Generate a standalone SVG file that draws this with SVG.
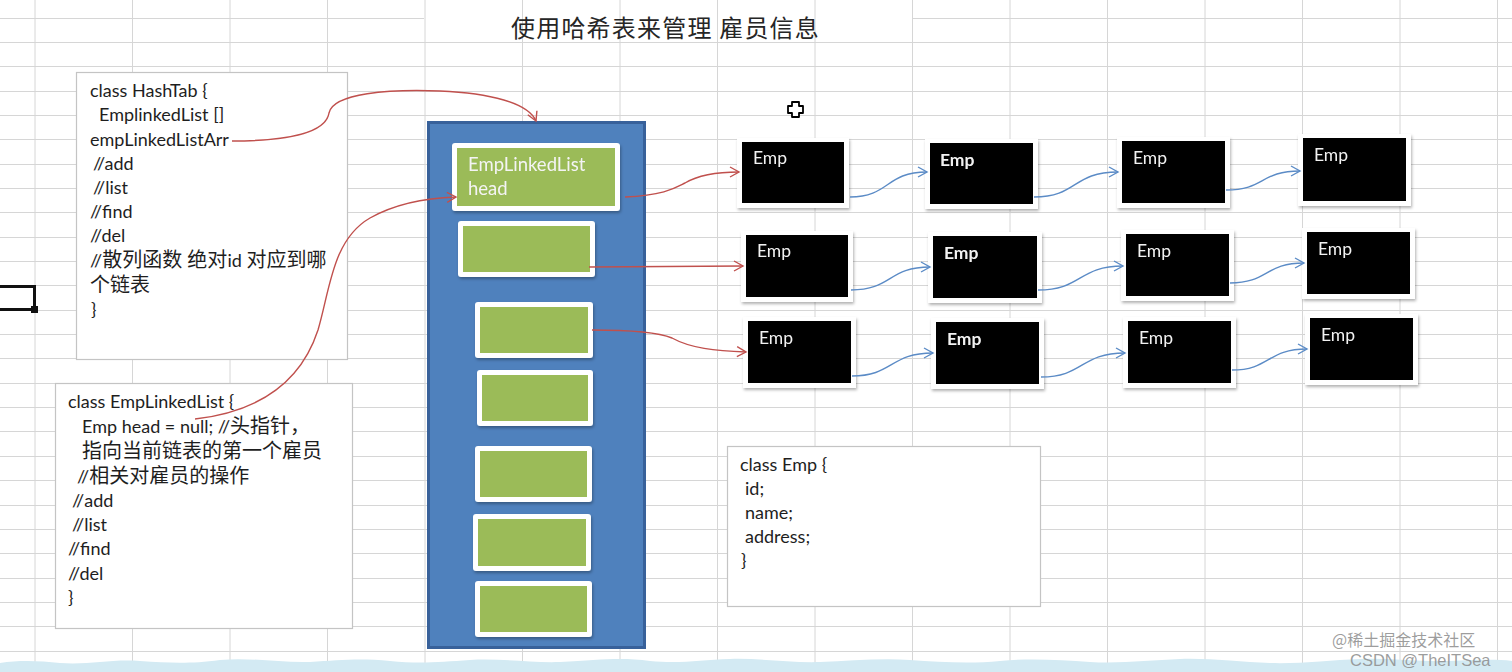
<svg xmlns="http://www.w3.org/2000/svg" width="1512" height="672" viewBox="0 0 1512 672">
<style>
.grid{stroke:#d6d6d6;stroke-width:1;fill:none}
.code{font-family:Lato,"Noto Sans CJK SC",sans-serif;font-size:18px;fill:#1e1e1e}
.cjk{font-size:20px}
.box{fill:#fff;stroke:#c4c4c4;stroke-width:1.2}
.emp-bg{fill:#fff}
.emp{fill:#000}
.emp-t{font-family:Lato,"Noto Sans CJK SC",sans-serif;font-size:17.5px;fill:#f2f2f2}
.b{font-weight:bold}
.gbg{fill:#fff}
.green{fill:#9bbb59}
.red{fill:none;stroke:#c0504d;stroke-width:1.4}
.blue{fill:none;stroke:#5b8bc6;stroke-width:1.4}
</style>
<defs>
<filter id="sh" x="-10%" y="-10%" width="130%" height="140%">
<feDropShadow dx="1" dy="2" stdDeviation="1.5" flood-color="#000" flood-opacity="0.3"/>
</filter>
<marker id="ar" markerWidth="12" markerHeight="12" refX="10" refY="6" orient="auto" markerUnits="userSpaceOnUse">
<path d="M1,1 L10,6 L1,11" fill="none" stroke="#c0504d" stroke-width="1.4"/>
</marker>
<marker id="ab" markerWidth="12" markerHeight="12" refX="10" refY="6" orient="auto" markerUnits="userSpaceOnUse">
<path d="M1,1 L10,6 L1,11" fill="none" stroke="#5b8bc6" stroke-width="1.4"/>
</marker>
</defs>
<rect width="1512" height="672" fill="#fff"/>
<g id="grid" class="grid">
<path d="M35,0V672M132.5,0V672M230,0V672M327.5,0V672M425,0V672M522.5,0V672M620,0V672M717.5,0V672M815,0V672M912.5,0V672M1010,0V672M1107.5,0V672M1205,0V672M1302.5,0V672M1400,0V672M1497.5,0V672"/>
<path d="M0,18.5H424M912,18.5H1512M0,42.5H1512M0,66.5H1512M0,91.5H1512M0,115.5H1512M0,139.5H1512M0,164.5H1512M0,188.5H1512M0,212.5H1512M0,237.5H1512M0,261.5H1512M0,285.5H1512M0,310.5H1512M0,334.5H1512M0,358.5H1512M0,383.5H1512M0,407.5H1512M0,431.5H1512M0,456.5H1512M0,480.5H1512M0,505.5H1512M0,529.5H1512M0,553.5H1512M0,578.5H1512M0,602.5H1512M0,626.5H1512M0,651.5H1512"/>
</g>
<g id="bottom-band">
<path d="M0,663 C20,660 40,661 60,663 C90,665 110,659 140,661 C170,663 190,664 220,660 C250,657 280,663 310,662 C340,660 360,658 390,661 C420,664 440,662 470,660 C500,658 530,663 560,662 C600,660 620,657 650,661 C680,664 700,660 730,659 C760,658 790,663 820,662 C850,661 880,658 910,660 C940,662 970,664 1000,661 C1030,658 1060,660 1090,662 C1120,664 1150,660 1180,659 C1210,658 1240,662 1270,663 C1300,664 1330,660 1360,659 C1390,658 1420,662 1450,661 C1475,660 1495,659 1512,661 L1512,672 L0,672 Z" fill="#d3eaf3"/>
</g>
<g id="title">
<text x="511" y="37" font-family="'Noto Sans CJK SC',sans-serif" font-size="24" letter-spacing="1.2" fill="#262626">使用哈希表来管理 雇员信息</text>
</g>
<g id="selection-mark">
<path d="M0,286.5H34.5V309.5H0" fill="none" stroke="#111" stroke-width="3"/>
<rect x="31" y="306" width="7" height="7" fill="#111"/>
</g>
<g id="cursor">
<path d="M792,102H799V106H803V113H799V117H792V113H788V106H792Z" fill="#fff" stroke="#000" stroke-width="1.8" stroke-linejoin="round"/>
</g>
<g id="hashtab-box">
<rect class="box" x="76.5" y="72.5" width="271" height="287"/>
<text class="code">
<tspan x="90" y="97">class HashTab  {</tspan>
<tspan x="99" y="121">EmplinkedList []</tspan>
<tspan x="90" y="146">empLinkedListArr</tspan>
<tspan x="93" y="170">//add</tspan>
<tspan x="93" y="194">//list</tspan>
<tspan x="90" y="218">//find</tspan>
<tspan x="90" y="242">//del</tspan>
<tspan x="90" y="267">//<tspan class="cjk">散列函数 绝对</tspan>id <tspan class="cjk">对应到哪</tspan></tspan>
<tspan x="90" y="292" class="cjk">个链表</tspan>
<tspan x="91" y="316">}</tspan>
</text>
</g>
<g id="emplinkedlist-box">
<rect class="box" x="55.5" y="383.5" width="297" height="245"/>
<text class="code">
<tspan x="68" y="408">class  EmpLinkedList {</tspan>
<tspan x="82" y="433">Emp head = null; //<tspan class="cjk">头指针，</tspan></tspan>
<tspan x="82" y="458" class="cjk">指向当前链表的第一个雇员</tspan>
<tspan x="77" y="483">//<tspan class="cjk">相关对雇员的操作</tspan></tspan>
<tspan x="72" y="507">//add</tspan>
<tspan x="72" y="531">//list</tspan>
<tspan x="68" y="555">//find</tspan>
<tspan x="68" y="580">//del</tspan>
<tspan x="68" y="604">}</tspan>
</text>
</g>
<g id="emp-class-box">
<rect class="box" x="727.5" y="446.5" width="313" height="160"/>
<text class="code">
<tspan x="740" y="471">class Emp {</tspan>
<tspan x="745" y="495">id;</tspan>
<tspan x="745" y="519">name;</tspan>
<tspan x="745" y="543">address;</tspan>
<tspan x="741" y="567">}</tspan>
</text>
</g>
<g id="hash-array">
<rect x="428.5" y="122.5" width="216" height="525" fill="#4f81bd" stroke="#38619a" stroke-width="3"/>
</g>
<g id="bucket-0" filter="url(#sh)">
<rect class="gbg" x="452" y="143" width="168" height="68" rx="3"/>
<rect class="green" x="457" y="148" width="158" height="58"/>
<text x="468" y="171" font-family="Lato,sans-serif" font-size="18.5" fill="#f4f4f4">EmpLinkedList</text>
<text x="468" y="195" font-family="Lato,sans-serif" font-size="18.5" fill="#f4f4f4">head</text>
</g>
<g id="bucket-1" filter="url(#sh)">
<rect class="gbg" x="458" y="221" width="137" height="56" rx="3"/>
<rect class="green" x="463" y="226" width="127" height="46"/>
</g>
<g id="bucket-2" filter="url(#sh)">
<rect class="gbg" x="475" y="302" width="118" height="56" rx="3"/>
<rect class="green" x="480" y="307" width="108" height="46"/>
</g>
<g id="bucket-3" filter="url(#sh)">
<rect class="gbg" x="477" y="370" width="116" height="56" rx="3"/>
<rect class="green" x="482" y="375" width="106" height="46"/>
</g>
<g id="bucket-4" filter="url(#sh)">
<rect class="gbg" x="475" y="446" width="117" height="56" rx="3"/>
<rect class="green" x="480" y="451" width="107" height="46"/>
</g>
<g id="bucket-5" filter="url(#sh)">
<rect class="gbg" x="473" y="514" width="118" height="57" rx="3"/>
<rect class="green" x="478" y="519" width="108" height="47"/>
</g>
<g id="bucket-6" filter="url(#sh)">
<rect class="gbg" x="475" y="581" width="117" height="56" rx="3"/>
<rect class="green" x="480" y="586" width="107" height="46"/>
</g>
<g id="emp-1-1" filter="url(#sh)"><rect class="emp-bg" x="737" y="138" width="112" height="70"/><rect class="emp" x="742" y="142" width="102" height="61"/><text class="emp-t" x="753" y="164">Emp</text></g>
<g id="emp-1-2" filter="url(#sh)"><rect class="emp-bg" x="925" y="139" width="113" height="70"/><rect class="emp" x="930" y="143" width="103" height="61"/><text class="emp-t b" x="940" y="166">Emp</text></g>
<g id="emp-1-3" filter="url(#sh)"><rect class="emp-bg" x="1117" y="137" width="113" height="71"/><rect class="emp" x="1122" y="141" width="103" height="62"/><text class="emp-t" x="1133" y="164">Emp</text></g>
<g id="emp-1-4" filter="url(#sh)"><rect class="emp-bg" x="1298" y="134" width="113" height="72"/><rect class="emp" x="1303" y="138" width="103" height="63"/><text class="emp-t" x="1314" y="161">Emp</text></g>
<g id="emp-2-1" filter="url(#sh)"><rect class="emp-bg" x="741" y="231" width="112" height="71"/><rect class="emp" x="746" y="235" width="102" height="62"/><text class="emp-t" x="757" y="257">Emp</text></g>
<g id="emp-2-2" filter="url(#sh)"><rect class="emp-bg" x="928" y="232" width="114" height="71"/><rect class="emp" x="933" y="236" width="104" height="62"/><text class="emp-t b" x="944" y="259">Emp</text></g>
<g id="emp-2-3" filter="url(#sh)"><rect class="emp-bg" x="1121" y="230" width="113" height="71"/><rect class="emp" x="1126" y="234" width="103" height="62"/><text class="emp-t" x="1137" y="257">Emp</text></g>
<g id="emp-2-4" filter="url(#sh)"><rect class="emp-bg" x="1302" y="228" width="113" height="71"/><rect class="emp" x="1307" y="232" width="103" height="62"/><text class="emp-t" x="1318" y="255">Emp</text></g>
<g id="emp-3-1" filter="url(#sh)"><rect class="emp-bg" x="743" y="317" width="113" height="71"/><rect class="emp" x="748" y="321" width="103" height="62"/><text class="emp-t" x="759" y="344">Emp</text></g>
<g id="emp-3-2" filter="url(#sh)"><rect class="emp-bg" x="931" y="318" width="113" height="71"/><rect class="emp" x="936" y="322" width="103" height="62"/><text class="emp-t b" x="947" y="345">Emp</text></g>
<g id="emp-3-3" filter="url(#sh)"><rect class="emp-bg" x="1123" y="317" width="113" height="71"/><rect class="emp" x="1128" y="321" width="103" height="62"/><text class="emp-t" x="1139" y="344">Emp</text></g>
<g id="emp-3-4" filter="url(#sh)"><rect class="emp-bg" x="1305" y="314" width="113" height="71"/><rect class="emp" x="1310" y="318" width="103" height="62"/><text class="emp-t" x="1321" y="341">Emp</text></g>
<g id="connectors">
<path class="red" marker-end="url(#ar)" d="M232,141 C290,141 326,132 329,113 C333,93 390,89 440,91 C490,93 528,103 536,121"/>
<path class="red" marker-end="url(#ar)" d="M195,419 C255,412 300,385 318,330 C330,290 332,240 370,218 C395,204 425,198 456,197"/>
<path class="red" marker-end="url(#ar)" d="M625,197 C665,195 675,188 685,183 C700,174 720,172 739,172"/>
<path class="red" marker-end="url(#ar)" d="M589,267 C650,267 700,266 743,266"/>
<path class="red" marker-end="url(#ar)" d="M592,330 C640,330 660,333 672,338 C690,348 715,351 746,352"/>
<path class="blue" marker-end="url(#ab)" d="M850,197 C890,197 885,172 927,172"/>
<path class="blue" marker-end="url(#ab)" d="M1034,197 C1078,197 1072,172 1118,172"/>
<path class="blue" marker-end="url(#ab)" d="M1226,190 C1265,190 1260,171 1300,171"/>
<path class="blue" marker-end="url(#ab)" d="M851,290 C892,290 888,267 930,267"/>
<path class="blue" marker-end="url(#ab)" d="M1038,290 C1082,290 1078,266 1123,266"/>
<path class="blue" marker-end="url(#ab)" d="M1230,283 C1268,283 1265,263 1304,263"/>
<path class="blue" marker-end="url(#ab)" d="M852,376 C893,376 890,353 933,353"/>
<path class="blue" marker-end="url(#ab)" d="M1041,377 C1084,377 1080,353 1125,353"/>
<path class="blue" marker-end="url(#ab)" d="M1232,370 C1270,370 1267,349 1307,349"/>
</g>
<g id="watermark" font-family="'Noto Sans CJK SC',sans-serif" fill="#8c8c8c" fill-opacity="0.85">
<text x="1332" y="646" font-size="16">@稀土掘金技术社区</text>
<text x="1350" y="666" font-size="16.5" font-family="'Liberation Sans',sans-serif">CSDN @TheITSea</text>
</g>
</svg>
